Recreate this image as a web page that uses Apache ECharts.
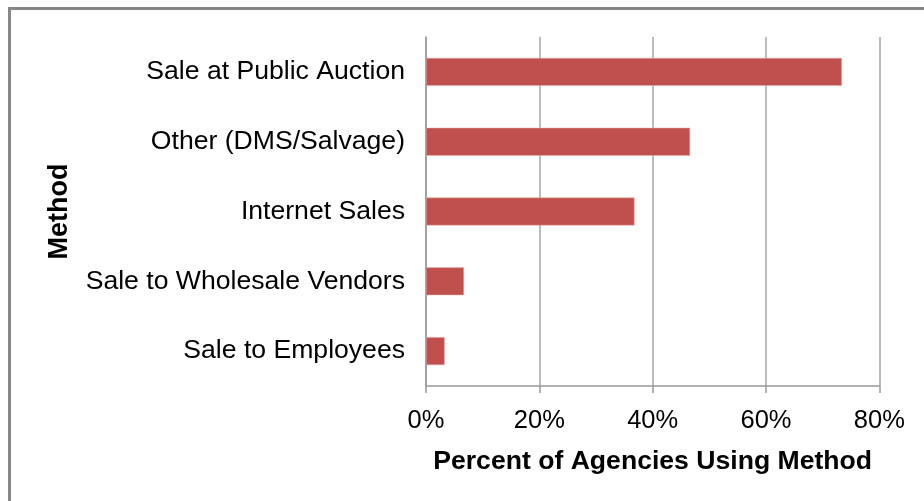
<!DOCTYPE html>
<html>
<head>
<meta charset="utf-8">
<script src="https://cdn.jsdelivr.net/npm/echarts@6/dist/echarts.min.js"></script>
<style>
  html, body { margin: 0; padding: 0; background: #fff; }
  #chart { width: 924px; height: 501px; }
</style>
</head>
<body>
<div id="chart"></div>
<script>
// Disposal methods, listed top to bottom
const methods = [
  'Sale at Public Auction',
  'Other (DMS/Salvage)',
  'Internet Sales',
  'Sale to Wholesale Vendors',
  'Sale to Employees'
];
// Percent of agencies using each method
const percentUsing = [73.4, 46.6, 36.8, 6.7, 3.3];
// Value axis ticks
const xMin = 0;
const xMax = 80;
const xStep = 20;

const chart = echarts.init(document.getElementById('chart'));
const font = 'Liberation Sans, Arial, sans-serif';

chart.setOption({
  animation: false,
  backgroundColor: '#ffffff',
  graphic: [{
    type: 'rect',
    shape: { x: 9.5, y: 8.5, width: 1000, height: 1000 },
    style: { fill: 'none', stroke: '#878787', lineWidth: 3 },
    silent: true
  }],
  grid: { left: 426, right: 44.7, top: 37, bottom: 115 },
  xAxis: {
    type: 'value',
    min: xMin,
    max: xMax,
    interval: xStep,
    name: 'Percent of Agencies Using Method',
    nameLocation: 'middle',
    nameGap: 62,
    nameTextStyle: { fontFamily: font, fontSize: 26.6, fontWeight: 'bold', color: '#000' },
    axisLine: { show: true, lineStyle: { color: '#999', width: 1.5 } },
    axisTick: { show: true, length: 7, lineStyle: { color: '#999', width: 1.5 } },
    axisLabel: {
      formatter: '{value}%',
      fontFamily: font, fontSize: 25.5, color: '#000', margin: 22
    },
    splitLine: { show: true, lineStyle: { color: '#a6a6a6', width: 1.5 } }
  },
  yAxis: {
    type: 'category',
    data: methods,
    inverse: true,
    name: 'Method',
    nameLocation: 'middle',
    nameGap: 353,
    nameRotate: 90,
    nameTextStyle: { fontFamily: font, fontSize: 27, fontWeight: 'bold', color: '#000' },
    axisLine: { show: true, lineStyle: { color: '#999', width: 1.5 } },
    axisTick: { show: false },
    axisLabel: { fontFamily: font, fontSize: 26.6, color: '#000', margin: 21, padding: [9, 0, 0, 0] }
  },
  series: [{
    type: 'bar',
    data: percentUsing,
    barCategoryGap: '60%',
    itemStyle: { color: '#c0504d', borderColor: '#e7b0ae', borderWidth: 0.5 }
  }]
});
</script>
</body>
</html>
